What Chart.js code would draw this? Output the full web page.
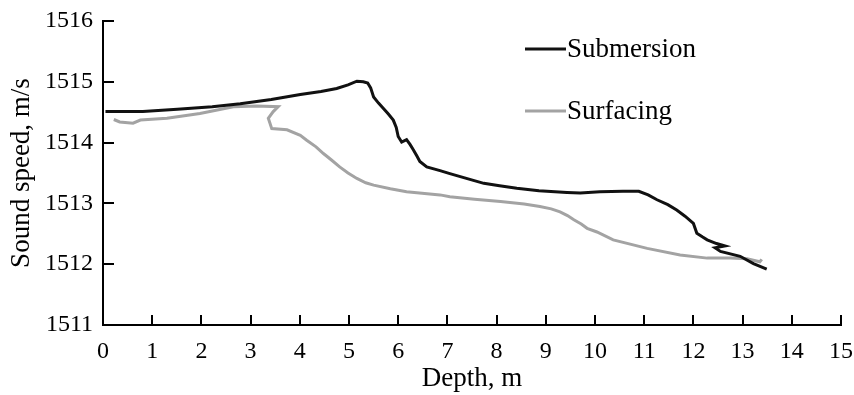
<!DOCTYPE html>
<html>
<head>
<meta charset="utf-8">
<script src="https://cdn.jsdelivr.net/npm/chart.js@4.4.1/dist/chart.umd.min.js"></script>
<style>
  html, body { margin: 0; padding: 0; background: #fff; }
  canvas { display: block; }
</style>
</head>
<body>
<canvas id="speedChart" width="854" height="395"></canvas>
<script>
// Submersion profile (black), in the order it was recorded
const subDepth = [0.05, 0.81, 1.51, 2.22, 2.79, 3.42, 4.01, 4.43, 4.75, 4.98, 5.16, 5.29, 5.38, 5.44, 5.5, 5.6, 5.7, 5.8, 5.9, 5.96, 6.0, 6.07, 6.17, 6.24, 6.31, 6.38, 6.44, 6.58, 6.85, 7.05, 7.35, 7.74, 8.06, 8.41, 8.86, 9.43, 9.7, 10.1, 10.57, 10.89, 11.08, 11.26, 11.48, 11.66, 11.83, 12.0, 12.07, 12.18, 12.28, 12.47, 12.64, 12.44, 12.55, 12.95, 13.22, 13.49];
const subSpeed = [1514.51, 1514.51, 1514.55, 1514.59, 1514.64, 1514.71, 1514.79, 1514.84, 1514.89, 1514.95, 1515.01, 1515.0, 1514.98, 1514.9, 1514.75, 1514.65, 1514.56, 1514.47, 1514.37, 1514.25, 1514.1, 1514.01, 1514.05, 1513.97, 1513.88, 1513.78, 1513.69, 1513.6, 1513.54, 1513.49, 1513.42, 1513.33, 1513.29, 1513.25, 1513.21, 1513.18, 1513.17, 1513.19, 1513.2, 1513.2, 1513.14, 1513.06, 1512.98, 1512.89, 1512.79, 1512.67, 1512.51, 1512.45, 1512.4, 1512.34, 1512.3, 1512.27, 1512.21, 1512.13, 1512.01, 1511.92];

// Surfacing profile (grey)
const surfDepth = [0.22, 0.34, 0.61, 0.76, 1.3, 1.97, 2.65, 3.12, 3.56, 3.46, 3.36, 3.43, 3.74, 4.01, 4.14, 4.33, 4.48, 4.65, 4.81, 4.98, 5.16, 5.34, 5.5, 5.84, 6.17, 6.85, 7.05, 7.55, 8.08, 8.56, 8.88, 9.11, 9.29, 9.44, 9.57, 9.72, 9.84, 10.04, 10.37, 11.06, 11.73, 12.28, 12.75, 13.09, 13.35, 13.39];
const surfSpeed = [1514.38, 1514.34, 1514.32, 1514.37, 1514.4, 1514.48, 1514.59, 1514.6, 1514.59, 1514.51, 1514.4, 1514.23, 1514.21, 1514.12, 1514.04, 1513.93, 1513.82, 1513.71, 1513.6, 1513.5, 1513.41, 1513.34, 1513.3, 1513.24, 1513.19, 1513.14, 1513.11, 1513.07, 1513.03, 1512.99, 1512.95, 1512.91, 1512.86, 1512.8, 1512.73, 1512.66, 1512.59, 1512.53, 1512.4, 1512.26, 1512.15, 1512.1, 1512.1, 1512.09, 1512.04, 1512.08];

const xTicks = [0, 1, 2, 3, 4, 5, 6, 7, 8, 9, 10, 11, 12, 13, 14, 15];
const yTicks = [1511, 1512, 1513, 1514, 1515, 1516];

const serif = '"Liberation Serif", "Times New Roman", serif';

function toPoints(xs, ys) {
    return xs.map((x, i) => ({ x: x, y: ys[i] }));
}

// ticks point into the plot, so draw them ourselves
const innerTicks = {
    id: 'innerTicks',
    afterDraw(chart) {
        const ctx = chart.ctx;
        const xs = chart.scales.x;
        const ys = chart.scales.y;
        const area = chart.chartArea;
        ctx.save();
        ctx.strokeStyle = '#000';
        ctx.lineWidth = 2;
        ctx.beginPath();
        xTicks.forEach(v => {
            const px = Math.round(xs.getPixelForValue(v));
            ctx.moveTo(px, area.bottom);
            ctx.lineTo(px, area.bottom - 10);
        });
        yTicks.forEach(v => {
            const py = Math.round(ys.getPixelForValue(v));
            ctx.moveTo(area.left, py);
            ctx.lineTo(area.left + 11, py);
        });
        ctx.stroke();
        ctx.restore();
    }
};

// legend inside the plot, line sample then label
const sideLegend = {
    id: 'sideLegend',
    afterDraw(chart) {
        const ctx = chart.ctx;
        const rows = [49, 111];
        ctx.save();
        ctx.font = '27px ' + serif;
        ctx.textBaseline = 'middle';
        ctx.fillStyle = '#000';
        chart.data.datasets.forEach((ds, i) => {
            ctx.strokeStyle = ds.borderColor;
            ctx.lineWidth = 3;
            ctx.beginPath();
            ctx.moveTo(525, rows[i]);
            ctx.lineTo(566, rows[i]);
            ctx.stroke();
            ctx.fillText(ds.label, 567, rows[i] + 1);
        });
        ctx.restore();
    }
};

const ctx = document.getElementById('speedChart').getContext('2d');
new Chart(ctx, {
    type: 'line',
    data: {
        datasets: [{
            label: 'Submersion',
            data: toPoints(subDepth, subSpeed),
            borderColor: '#111111',
            borderWidth: 3,
            pointRadius: 0,
            tension: 0
        }, {
            label: 'Surfacing',
            data: toPoints(surfDepth, surfSpeed),
            borderColor: '#a3a3a3',
            borderWidth: 3,
            pointRadius: 0,
            tension: 0
        }]
    },
    options: {
        responsive: false,
        animation: false,
        layout: { padding: { top: 21, right: 13, left: 0, bottom: 0 } },
        plugins: {
            legend: { display: false },
            tooltip: { enabled: false }
        },
        scales: {
            x: {
                type: 'linear',
                min: 0,
                max: 15,
                afterBuildTicks: s => { s.ticks = xTicks.map(v => ({ value: v })); },
                afterFit: s => { s.height = 70; s.paddingLeft = 0; s.paddingRight = 0; },
                grid: { drawOnChartArea: false, drawTicks: false },
                border: { color: '#000', width: 2 },
                ticks: { color: '#000', padding: 12, font: { family: serif, size: 24 }, maxRotation: 0, callback: v => String(v) },
                title: { display: true, text: 'Depth, m', color: '#000', padding: { top: 2, bottom: 0 }, font: { family: serif, size: 27 } }
            },
            y: {
                type: 'linear',
                min: 1511,
                max: 1516,
                afterBuildTicks: s => { s.ticks = yTicks.map(v => ({ value: v })); },
                afterFit: s => { s.width = 103; s.paddingTop = 0; s.paddingBottom = 0; },
                grid: { drawOnChartArea: false, drawTicks: false },
                border: { color: '#000', width: 2 },
                ticks: { color: '#000', padding: 10, font: { family: serif, size: 24 }, callback: v => String(v) },
                title: { display: true, text: 'Sound speed, m/s', color: '#000', padding: { top: 6, bottom: 0 }, font: { family: serif, size: 27 } }
            }
        }
    },
    plugins: [innerTicks, sideLegend]
});
</script>
</body>
</html>
